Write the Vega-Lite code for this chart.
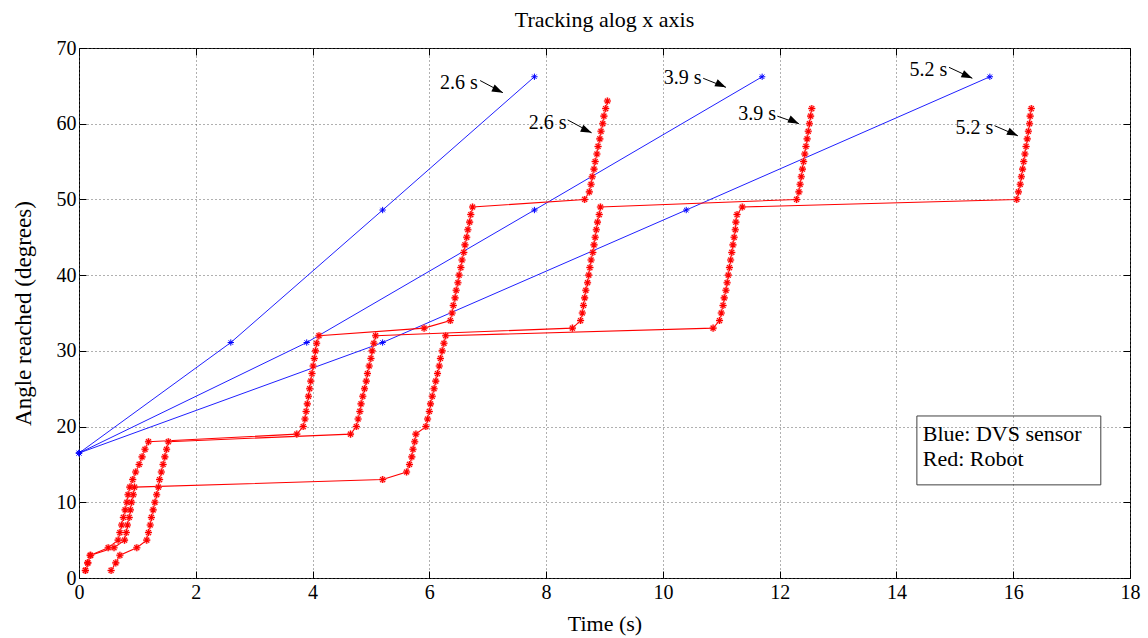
{
  "$schema": "https://vega.github.io/schema/vega-lite/v6.json",
  "width": 1051,
  "height": 530,
  "autosize": {"type": "none"},
  "padding": {"left": 79, "top": 48, "right": 18, "bottom": 60},
  "background": "white",
  "title": {"text": "Tracking alog x axis", "font": "Liberation Serif", "fontSize": 22, "fontWeight": "normal", "color": "black", "offset": 6},
  "config": {"view": {"stroke": "black", "strokeWidth": 1}, "font": "Liberation Serif"},
  "datasets": {
    "sensor": [
      {"s": "2.6", "t": 0, "a": 16.5}, {"s": "2.6", "t": 2.6, "a": 31.1}, {"s": "2.6", "t": 5.2, "a": 48.6}, {"s": "2.6", "t": 7.8, "a": 66.2},
      {"s": "3.9", "t": 0, "a": 16.5}, {"s": "3.9", "t": 3.9, "a": 31.1}, {"s": "3.9", "t": 7.8, "a": 48.6}, {"s": "3.9", "t": 11.7, "a": 66.2},
      {"s": "5.2", "t": 0, "a": 16.5}, {"s": "5.2", "t": 5.2, "a": 31.1}, {"s": "5.2", "t": 10.4, "a": 48.6}, {"s": "5.2", "t": 15.6, "a": 66.2}
    ],
    "robot": [
      {"s": "A", "t": 0.11, "a": 1}, {"s": "A", "t": 0.15, "a": 2}, {"s": "A", "t": 0.19, "a": 3}, {"s": "A", "t": 0.5, "a": 4}, {"s": "A", "t": 0.67, "a": 5}, {"s": "A", "t": 0.7, "a": 6}, {"s": "A", "t": 0.73, "a": 7}, {"s": "A", "t": 0.76, "a": 8}, {"s": "A", "t": 0.79, "a": 9}, {"s": "A", "t": 0.82, "a": 10}, {"s": "A", "t": 0.84, "a": 11}, {"s": "A", "t": 0.87, "a": 12}, {"s": "A", "t": 0.92, "a": 13}, {"s": "A", "t": 0.97, "a": 14}, {"s": "A", "t": 1.03, "a": 15}, {"s": "A", "t": 1.08, "a": 16}, {"s": "A", "t": 1.13, "a": 17}, {"s": "A", "t": 1.19, "a": 18},
      {"s": "A", "t": 3.73, "a": 19}, {"s": "A", "t": 3.84, "a": 20}, {"s": "A", "t": 3.87, "a": 21}, {"s": "A", "t": 3.89, "a": 22}, {"s": "A", "t": 3.91, "a": 23}, {"s": "A", "t": 3.93, "a": 24}, {"s": "A", "t": 3.95, "a": 25}, {"s": "A", "t": 3.97, "a": 26}, {"s": "A", "t": 3.99, "a": 27}, {"s": "A", "t": 4.01, "a": 28}, {"s": "A", "t": 4.03, "a": 29}, {"s": "A", "t": 4.05, "a": 30}, {"s": "A", "t": 4.07, "a": 31}, {"s": "A", "t": 4.11, "a": 32},
      {"s": "A", "t": 5.91, "a": 33}, {"s": "A", "t": 6.36, "a": 34}, {"s": "A", "t": 6.39, "a": 35}, {"s": "A", "t": 6.41, "a": 36}, {"s": "A", "t": 6.44, "a": 37}, {"s": "A", "t": 6.46, "a": 38}, {"s": "A", "t": 6.49, "a": 39}, {"s": "A", "t": 6.51, "a": 40}, {"s": "A", "t": 6.54, "a": 41}, {"s": "A", "t": 6.56, "a": 42}, {"s": "A", "t": 6.59, "a": 43}, {"s": "A", "t": 6.61, "a": 44}, {"s": "A", "t": 6.64, "a": 45}, {"s": "A", "t": 6.66, "a": 46}, {"s": "A", "t": 6.69, "a": 47}, {"s": "A", "t": 6.71, "a": 48}, {"s": "A", "t": 6.74, "a": 49},
      {"s": "A", "t": 8.66, "a": 50}, {"s": "A", "t": 8.74, "a": 51}, {"s": "A", "t": 8.77, "a": 52}, {"s": "A", "t": 8.79, "a": 53}, {"s": "A", "t": 8.82, "a": 54}, {"s": "A", "t": 8.84, "a": 55}, {"s": "A", "t": 8.87, "a": 56}, {"s": "A", "t": 8.89, "a": 57}, {"s": "A", "t": 8.92, "a": 58}, {"s": "A", "t": 8.94, "a": 59}, {"s": "A", "t": 8.97, "a": 60}, {"s": "A", "t": 8.99, "a": 61}, {"s": "A", "t": 9.02, "a": 62}, {"s": "A", "t": 9.05, "a": 63},
      {"s": "B", "t": 0.55, "a": 1}, {"s": "B", "t": 0.63, "a": 2}, {"s": "B", "t": 0.7, "a": 3}, {"s": "B", "t": 0.99, "a": 4}, {"s": "B", "t": 1.16, "a": 5}, {"s": "B", "t": 1.19, "a": 6}, {"s": "B", "t": 1.22, "a": 7}, {"s": "B", "t": 1.24, "a": 8}, {"s": "B", "t": 1.27, "a": 9}, {"s": "B", "t": 1.3, "a": 10}, {"s": "B", "t": 1.33, "a": 11}, {"s": "B", "t": 1.36, "a": 12}, {"s": "B", "t": 1.38, "a": 13}, {"s": "B", "t": 1.41, "a": 14}, {"s": "B", "t": 1.44, "a": 15}, {"s": "B", "t": 1.47, "a": 16}, {"s": "B", "t": 1.5, "a": 17}, {"s": "B", "t": 1.53, "a": 18},
      {"s": "B", "t": 4.65, "a": 19}, {"s": "B", "t": 4.75, "a": 20}, {"s": "B", "t": 4.78, "a": 21}, {"s": "B", "t": 4.81, "a": 22}, {"s": "B", "t": 4.83, "a": 23}, {"s": "B", "t": 4.86, "a": 24}, {"s": "B", "t": 4.89, "a": 25}, {"s": "B", "t": 4.92, "a": 26}, {"s": "B", "t": 4.94, "a": 27}, {"s": "B", "t": 4.97, "a": 28}, {"s": "B", "t": 5.0, "a": 29}, {"s": "B", "t": 5.02, "a": 30}, {"s": "B", "t": 5.05, "a": 31}, {"s": "B", "t": 5.08, "a": 32},
      {"s": "B", "t": 8.45, "a": 33}, {"s": "B", "t": 8.59, "a": 34}, {"s": "B", "t": 8.62, "a": 35}, {"s": "B", "t": 8.64, "a": 36}, {"s": "B", "t": 8.66, "a": 37}, {"s": "B", "t": 8.68, "a": 38}, {"s": "B", "t": 8.71, "a": 39}, {"s": "B", "t": 8.73, "a": 40}, {"s": "B", "t": 8.75, "a": 41}, {"s": "B", "t": 8.77, "a": 42}, {"s": "B", "t": 8.8, "a": 43}, {"s": "B", "t": 8.82, "a": 44}, {"s": "B", "t": 8.84, "a": 45}, {"s": "B", "t": 8.86, "a": 46}, {"s": "B", "t": 8.88, "a": 47}, {"s": "B", "t": 8.91, "a": 48}, {"s": "B", "t": 8.93, "a": 49},
      {"s": "B", "t": 12.29, "a": 50}, {"s": "B", "t": 12.33, "a": 51}, {"s": "B", "t": 12.35, "a": 52}, {"s": "B", "t": 12.37, "a": 53}, {"s": "B", "t": 12.39, "a": 54}, {"s": "B", "t": 12.41, "a": 55}, {"s": "B", "t": 12.43, "a": 56}, {"s": "B", "t": 12.45, "a": 57}, {"s": "B", "t": 12.47, "a": 58}, {"s": "B", "t": 12.49, "a": 59}, {"s": "B", "t": 12.51, "a": 60}, {"s": "B", "t": 12.53, "a": 61}, {"s": "B", "t": 12.55, "a": 62},
      {"s": "C", "t": 0.11, "a": 1}, {"s": "C", "t": 0.15, "a": 2}, {"s": "C", "t": 0.2, "a": 3}, {"s": "C", "t": 0.6, "a": 4}, {"s": "C", "t": 0.78, "a": 5}, {"s": "C", "t": 0.81, "a": 6}, {"s": "C", "t": 0.83, "a": 7}, {"s": "C", "t": 0.86, "a": 8}, {"s": "C", "t": 0.88, "a": 9}, {"s": "C", "t": 0.9, "a": 10}, {"s": "C", "t": 0.93, "a": 11}, {"s": "C", "t": 0.95, "a": 12},
      {"s": "C", "t": 5.2, "a": 13}, {"s": "C", "t": 5.61, "a": 14}, {"s": "C", "t": 5.66, "a": 15}, {"s": "C", "t": 5.7, "a": 16}, {"s": "C", "t": 5.72, "a": 17}, {"s": "C", "t": 5.75, "a": 18}, {"s": "C", "t": 5.77, "a": 19}, {"s": "C", "t": 5.94, "a": 20}, {"s": "C", "t": 5.97, "a": 21}, {"s": "C", "t": 6.0, "a": 22}, {"s": "C", "t": 6.02, "a": 23}, {"s": "C", "t": 6.05, "a": 24}, {"s": "C", "t": 6.08, "a": 25}, {"s": "C", "t": 6.11, "a": 26}, {"s": "C", "t": 6.14, "a": 27}, {"s": "C", "t": 6.17, "a": 28}, {"s": "C", "t": 6.19, "a": 29}, {"s": "C", "t": 6.22, "a": 30}, {"s": "C", "t": 6.25, "a": 31}, {"s": "C", "t": 6.28, "a": 32},
      {"s": "C", "t": 10.86, "a": 33}, {"s": "C", "t": 10.97, "a": 34}, {"s": "C", "t": 11.0, "a": 35}, {"s": "C", "t": 11.03, "a": 36}, {"s": "C", "t": 11.05, "a": 37}, {"s": "C", "t": 11.08, "a": 38}, {"s": "C", "t": 11.1, "a": 39}, {"s": "C", "t": 11.12, "a": 40}, {"s": "C", "t": 11.14, "a": 41}, {"s": "C", "t": 11.16, "a": 42}, {"s": "C", "t": 11.18, "a": 43}, {"s": "C", "t": 11.2, "a": 44}, {"s": "C", "t": 11.22, "a": 45}, {"s": "C", "t": 11.24, "a": 46}, {"s": "C", "t": 11.25, "a": 47}, {"s": "C", "t": 11.27, "a": 48}, {"s": "C", "t": 11.36, "a": 49},
      {"s": "C", "t": 16.06, "a": 50}, {"s": "C", "t": 16.09, "a": 51}, {"s": "C", "t": 16.12, "a": 52}, {"s": "C", "t": 16.14, "a": 53}, {"s": "C", "t": 16.16, "a": 54}, {"s": "C", "t": 16.18, "a": 55}, {"s": "C", "t": 16.2, "a": 56}, {"s": "C", "t": 16.22, "a": 57}, {"s": "C", "t": 16.24, "a": 58}, {"s": "C", "t": 16.26, "a": 59}, {"s": "C", "t": 16.28, "a": 60}, {"s": "C", "t": 16.29, "a": 61}, {"s": "C", "t": 16.31, "a": 62}
    ],
    "notes": [
      {"label": "2.6 s", "tx": 6.83, "ty": 65.4, "x1": 6.87, "y1": 65.7, "x2": 7.26, "y2": 64.1},
      {"label": "2.6 s", "tx": 8.35, "ty": 60.1, "x1": 8.37, "y1": 60.5, "x2": 8.78, "y2": 58.8},
      {"label": "3.9 s", "tx": 10.66, "ty": 66.0, "x1": 10.69, "y1": 66.0, "x2": 11.08, "y2": 64.8},
      {"label": "3.9 s", "tx": 11.94, "ty": 61.3, "x1": 11.96, "y1": 61.0, "x2": 12.33, "y2": 60.0},
      {"label": "5.2 s", "tx": 14.87, "ty": 67.1, "x1": 14.9, "y1": 67.45, "x2": 15.3, "y2": 66.0},
      {"label": "5.2 s", "tx": 15.66, "ty": 59.4, "x1": 15.68, "y1": 59.74, "x2": 16.08, "y2": 58.4}
    ],
    "box": [{"x1": 14.35, "x2": 17.5, "y1": 12.3, "y2": 21.4}],
    "boxtext": [
      {"label": "Blue: DVS sensor", "x": 14.45, "y": 18.14},
      {"label": "Red: Robot", "x": 14.45, "y": 14.83}
    ]
  },
  "layer": [
    {
      "data": {"name": "sensor"},
      "mark": {"type": "line", "color": "#2020ff", "strokeWidth": 1},
      "encoding": {
        "x": {"field": "t", "type": "quantitative", "scale": {"domain": [0, 18], "nice": false, "zero": false},
          "axis": {"orient": "bottom", "values": [0, 2, 4, 6, 8, 10, 12, 14, 16, 18], "title": "Time (s)", "grid": true, "gridDash": [1, 3], "gridColor": "#606060", "gridWidth": 1, "domain": false, "ticks": true, "tickSize": -7, "tickColor": "black", "labelFontSize": 20, "labelColor": "black", "labelPadding": 11, "labelFlush": false, "labelFont": "Liberation Serif", "titleFont": "Liberation Serif", "titleFontSize": 22, "titleFontWeight": "normal", "titleColor": "black", "titlePadding": 11}},
        "y": {"field": "a", "type": "quantitative", "scale": {"domain": [0, 70], "nice": false, "zero": false},
          "axis": {"orient": "left", "values": [0, 10, 20, 30, 40, 50, 60, 70], "title": "Angle reached (degrees)", "grid": true, "gridDash": [1, 3], "gridColor": "#606060", "gridWidth": 1, "domain": false, "ticks": true, "tickSize": -7, "tickColor": "black", "labelFontSize": 20, "labelColor": "black", "labelPadding": 10, "labelFlush": false, "labelFont": "Liberation Serif", "titleFont": "Liberation Serif", "titleFontSize": 23, "titleFontWeight": "normal", "titleColor": "black", "titlePadding": 21}},
        "detail": {"field": "s"}
      }
    },
    {
      "data": {"name": "sensor"},
      "mark": {"type": "point", "shape": "M-1,0L1,0M0,-1L0,1M-0.7,-0.7L0.7,0.7M-0.7,0.7L0.7,-0.7", "filled": false, "color": "#0000ff", "strokeWidth": 1, "size": 40, "opacity": 1},
      "encoding": {
        "x": {"field": "t", "type": "quantitative", "axis": null},
        "y": {"field": "a", "type": "quantitative", "axis": null}
      }
    },
    {
      "data": {"name": "robot"},
      "mark": {"type": "line", "color": "#ff0000", "strokeWidth": 1.1},
      "encoding": {
        "x": {"field": "t", "type": "quantitative", "axis": null},
        "y": {"field": "a", "type": "quantitative", "axis": null},
        "detail": {"field": "s"}
      }
    },
    {
      "data": {"name": "robot"},
      "mark": {"type": "point", "shape": "M-1,0L1,0M0,-1L0,1M-0.7,-0.7L0.7,0.7M-0.7,0.7L0.7,-0.7", "filled": false, "color": "#ff9090", "strokeWidth": 2.6, "size": 50, "opacity": 0.6},
      "encoding": {
        "x": {"field": "t", "type": "quantitative", "axis": null},
        "y": {"field": "a", "type": "quantitative", "axis": null}
      }
    },
    {
      "data": {"name": "robot"},
      "mark": {"type": "point", "shape": "M-1,0L1,0M0,-1L0,1M-0.7,-0.7L0.7,0.7M-0.7,0.7L0.7,-0.7", "filled": false, "color": "#ff0000", "strokeWidth": 1.1, "size": 50, "opacity": 1},
      "encoding": {
        "x": {"field": "t", "type": "quantitative", "axis": null},
        "y": {"field": "a", "type": "quantitative", "axis": null}
      }
    },
    {
      "data": {"name": "notes"},
      "mark": {"type": "rule", "color": "black", "strokeWidth": 1},
      "encoding": {
        "x": {"field": "x1", "type": "quantitative", "axis": null},
        "y": {"field": "y1", "type": "quantitative", "axis": null},
        "x2": {"field": "x2"},
        "y2": {"field": "y2"}
      }
    },
    {
      "data": {"name": "notes"},
      "mark": {"type": "point", "shape": "M0,0L-2,-0.7L-2,0.7Z", "filled": true, "color": "black", "size": 120, "angle": 25, "opacity": 1},
      "encoding": {
        "x": {"field": "x2", "type": "quantitative", "axis": null},
        "y": {"field": "y2", "type": "quantitative", "axis": null}
      }
    },
    {
      "data": {"name": "notes"},
      "mark": {"type": "text", "align": "right", "baseline": "middle", "font": "Liberation Serif", "fontSize": 20, "color": "black"},
      "encoding": {
        "x": {"field": "tx", "type": "quantitative", "axis": null},
        "y": {"field": "ty", "type": "quantitative", "axis": null},
        "text": {"field": "label"}
      }
    },
    {
      "data": {"name": "box"},
      "mark": {"type": "rect", "filled": false, "color": "#404040", "strokeWidth": 1},
      "encoding": {
        "x": {"field": "x1", "type": "quantitative", "axis": null},
        "x2": {"field": "x2"},
        "y": {"field": "y1", "type": "quantitative", "axis": null},
        "y2": {"field": "y2"}
      }
    },
    {
      "data": {"name": "boxtext"},
      "mark": {"type": "text", "align": "left", "baseline": "alphabetic", "font": "Liberation Serif", "fontSize": 22, "color": "black"},
      "encoding": {
        "x": {"field": "x", "type": "quantitative", "axis": null},
        "y": {"field": "y", "type": "quantitative", "axis": null},
        "text": {"field": "label"}
      }
    },
    {
      "data": {"name": "sensor"},
      "mark": {"type": "point", "opacity": 0},
      "encoding": {
        "x": {"field": "t", "type": "quantitative",
          "axis": {"orient": "top", "values": [0, 2, 4, 6, 8, 10, 12, 14, 16, 18], "title": null, "labels": false, "grid": false, "domain": false, "ticks": true, "tickSize": -7, "tickColor": "black"}},
        "y": {"field": "a", "type": "quantitative",
          "axis": {"orient": "right", "values": [0, 10, 20, 30, 40, 50, 60, 70], "title": null, "labels": false, "grid": false, "domain": false, "ticks": true, "tickSize": -7, "tickColor": "black"}}
      }
    }
  ],
  "resolve": {"axis": {"x": "independent", "y": "independent"}}
}
